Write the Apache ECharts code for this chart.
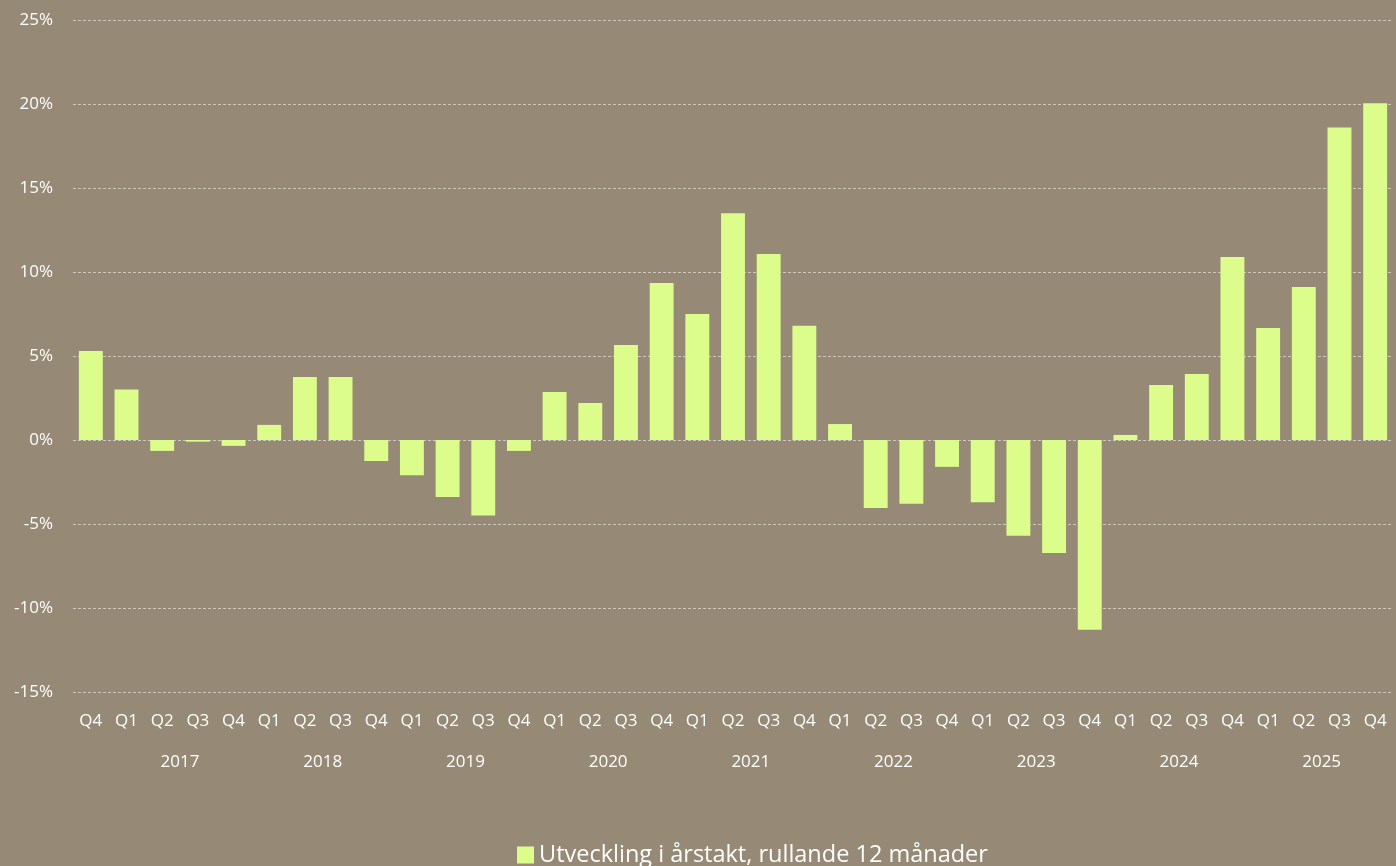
<!DOCTYPE html>
<html>
<head>
<meta charset="utf-8">
<script src="https://cdn.jsdelivr.net/npm/echarts@6/dist/echarts.min.js"></script>
<style>
html,body{margin:0;padding:0;background:#968a76;}
#chart{width:1396px;height:866px;}
</style>
</head>
<body>
<div id="chart"></div>
<script>
// kvartal, första stapeln är Q4 2016
var quarters=['Q4','Q1','Q2','Q3','Q4','Q1','Q2','Q3','Q4','Q1','Q2','Q3','Q4',
    'Q1','Q2','Q3','Q4','Q1','Q2','Q3','Q4','Q1','Q2','Q3','Q4','Q1','Q2','Q3','Q4',
    'Q1','Q2','Q3','Q4','Q1','Q2','Q3','Q4'];
var years=['2017','2018','2019','2020','2021','2022','2023','2024','2025'];
var growth=[5.3,3.0,-0.65,-0.1,-0.35,0.9,3.75,3.75,-1.25,-2.1,-3.4,-4.5,-0.65,
    2.85,2.2,5.65,9.35,7.5,13.5,11.07,6.8,0.95,-4.05,-3.8,-1.6,-3.7,-5.7,-6.73,-11.3,
    0.3,3.27,3.93,10.9,6.67,9.1,18.6,20.05];
var seriesName='Utveckling i årstakt, rullande 12 månader';

var font='"Open Sans", sans-serif';
var chart=echarts.init(document.getElementById('chart'));
chart.setOption({
    backgroundColor:'#968a76',
    animation:false,
    textStyle:{fontFamily:font},
    grid:{left:73,right:0,top:20,bottom:174,containLabel:false},
    legend:{
        bottom:-6,left:512,
        itemWidth:17,itemHeight:17,itemGap:8,
        icon:'rect',
        textStyle:{color:'#ffffff',fontSize:23.5,fontFamily:font},
        data:[seriesName]
    },
    xAxis:[{
        type:'category',
        data:quarters,
        axisLine:{show:false},
        axisTick:{show:false},
        axisLabel:{color:'#ffffff',fontSize:17,margin:21,interval:0}
    },{
        type:'value',
        position:'bottom',
        min:0,max:quarters.length,interval:1,
        axisLine:{show:false},
        axisTick:{show:false},
        splitLine:{show:false},
        axisLabel:{
            color:'#ffffff',fontSize:17,margin:62,showMinLabel:true,showMaxLabel:true,
            formatter:function(v){
                if((v-3)%4===0){
                    var i=(v-3)/4;
                    return years[i]||'';
                }
                return '';
            }
        }
    }],
    yAxis:{
        type:'value',
        min:-15,max:25,interval:5,
        axisLine:{show:false},
        axisTick:{show:false},
        axisLabel:{color:'#ffffff',fontSize:17,margin:20,formatter:'{value}%'},
        splitLine:{lineStyle:{color:'#cdc7bd',type:[3,2],width:1}}
    },
    series:[{
        name:seriesName,
        type:'bar',
        data:growth,
        barCategoryGap:'33%',
        itemStyle:{color:'#dcfc8c'}
    }]
});
</script>
</body>
</html>
